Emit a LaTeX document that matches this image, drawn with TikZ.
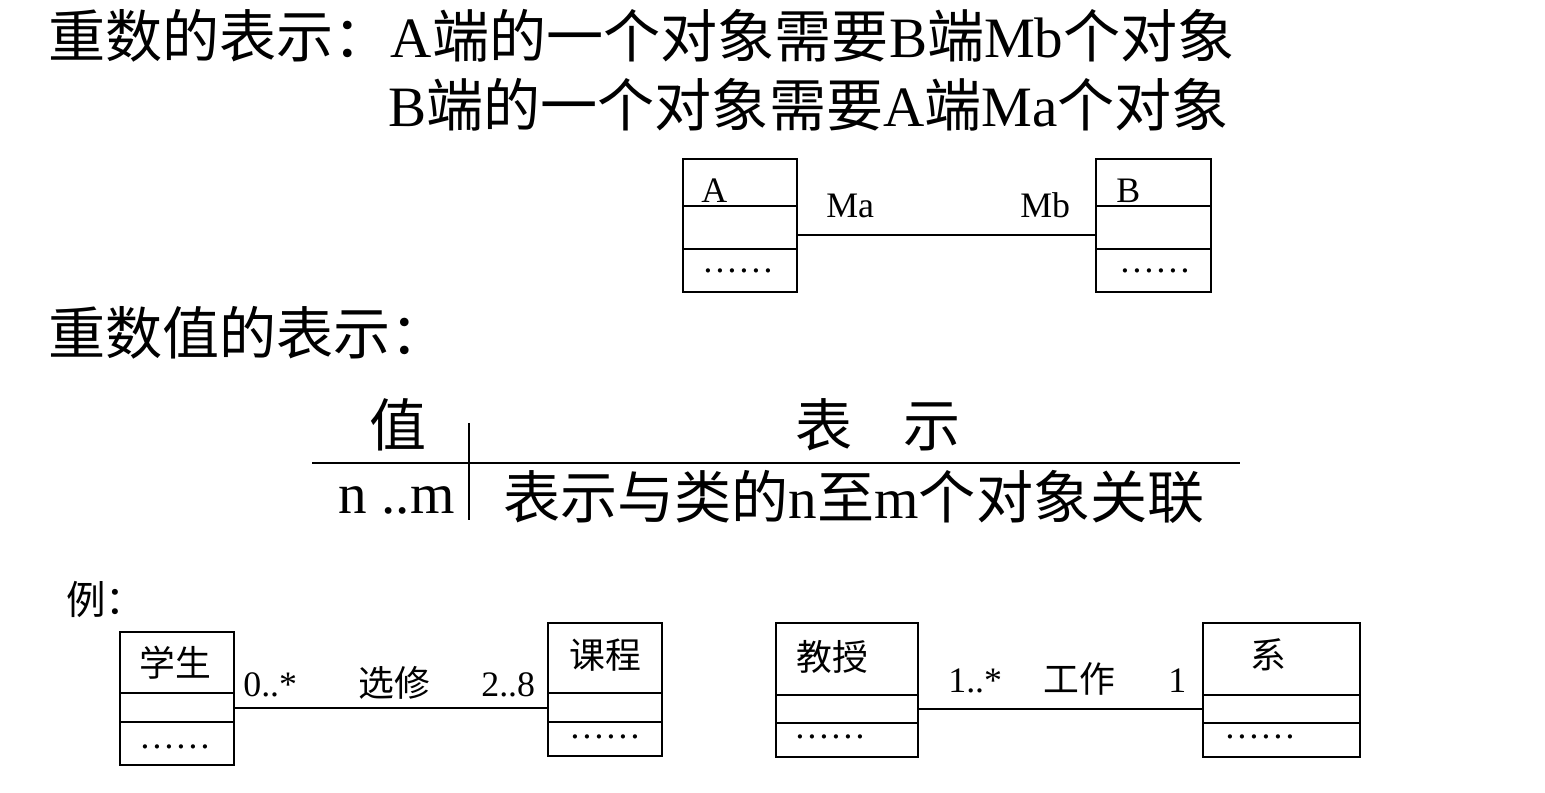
\documentclass[tikz,border=0pt]{standalone}
\usepackage{fontspec}
\setmainfont{Liberation Serif}
\newfontfamily\cjk{Noto Sans CJK SC}
\newcommand{\zh}[1]{{\cjk #1}}
\usepackage{tikz}

\begin{document}
\begin{tikzpicture}[x=0.02cm, y=-0.02cm,
    big/.style={font=\fontsize{32.5}{38}\selectfont, inner sep=0pt},
    mid/.style={font=\fontsize{22.5}{26}\selectfont, inner sep=0pt},
    small/.style={font=\fontsize{20.4}{24}\selectfont, inner sep=0pt},
    box/.style={line width=1.4pt},
    link/.style={line width=1.1pt}]
    \useasboundingbox (0,0) rectangle (1545,793);

    % headings
    \node[big, anchor=base west] (head1) at (48,58) {\zh{重数的表示：}A\zh{端的一个对象需要}B\zh{端}Mb\zh{个对象}};
    \node[big, anchor=base west] (head2) at (388,127) {B\zh{端的一个对象需要}A\zh{端}Ma\zh{个对象}};

    % class A -- class B
    \draw[box] (683,159) rectangle (797,292); \draw[box] (683,206) -- (797,206) (683,249) -- (797,249);
    \draw[box] (1096,159) rectangle (1211,292); \draw[box] (1096,206) -- (1211,206) (1096,249) -- (1211,249);
    \coordinate (aE) at (797,235); \coordinate (bW) at (1096,235);
    \draw[link] (aE) -- (bW);
    \node[small, anchor=base west] (nA) at (701,203) {A};
    \node[small, anchor=base west] (nB) at (1116,203) {B};
    \node[small, anchor=base west] (ma) at (826,218) {Ma};
    \node[small, anchor=base west] (mb) at (1020,218) {Mb};
    \node[small, anchor=base] (dotA) at (738,273) {……};
    \node[small, anchor=base] (dotB) at (1155,273) {……};

    % table of values
    \node[big, anchor=base west] (head3) at (48,355) {\zh{重数值的表示：}};
    \node[big] (colV) at (398,425) {\zh{值}};
    \node[big] (colR) at (878,425) {\zh{表\hspace{0.9em}示}};
    \draw[link] (312,463) -- (1240,463);
    \draw[link] (469,423) -- (469,520);
    \node[big, anchor=base east] (val) at (455,514) {n ..m};
    \node[big, anchor=base west] (mean) at (503,519) {\zh{表示与类的}n\zh{至}m\zh{个对象关联}};

    % examples
    \node[mid, anchor=base west] (ex) at (66,614) {\zh{例：}};
    \draw[box] (120,632) rectangle (234,765); \draw[box] (120,693) -- (234,693) (120,722) -- (234,722);
    \draw[box] (548,623) rectangle (662,756); \draw[box] (548,693) -- (662,693) (548,722) -- (662,722);
    \coordinate (stuE) at (234,708); \coordinate (crsW) at (548,708);
    \draw[link] (stuE) -- (crsW);
    \node[small] (stu) at (175,663) {\zh{学生}};
    \node[small] (crs) at (605,655) {\zh{课程}};
    \node[small, anchor=base west] (m1) at (243,696) {0..*};
    \node[small, anchor=base west] (r1) at (358,696) {\zh{选修}};
    \node[small, anchor=base west] (m2) at (481,696) {2..8};
    \node[small, anchor=base] (dotS) at (175,748) {……};
    \node[small, anchor=base] (dotC) at (605,738) {……};

    \draw[box] (776,623) rectangle (918,757); \draw[box] (776,695) -- (918,695) (776,723) -- (918,723);
    \draw[box] (1203,623) rectangle (1360,757); \draw[box] (1203,695) -- (1360,695) (1203,723) -- (1360,723);
    \coordinate (profE) at (918,709); \coordinate (deptW) at (1203,709);
    \draw[link] (profE) -- (deptW);
    \node[small] (prof) at (832,657) {\zh{教授}};
    \node[small] (dept) at (1268,655) {\zh{系}};
    \node[small, anchor=base west] (m3) at (948,692) {1..*};
    \node[small, anchor=base west] (r2) at (1043,692) {\zh{工作}};
    \node[small, anchor=base west] (m4) at (1168,692) {1};
    \node[small, anchor=base] (dotP) at (830,738) {……};
    \node[small, anchor=base] (dotD) at (1260,738) {……};
\end{tikzpicture}
\end{document}
